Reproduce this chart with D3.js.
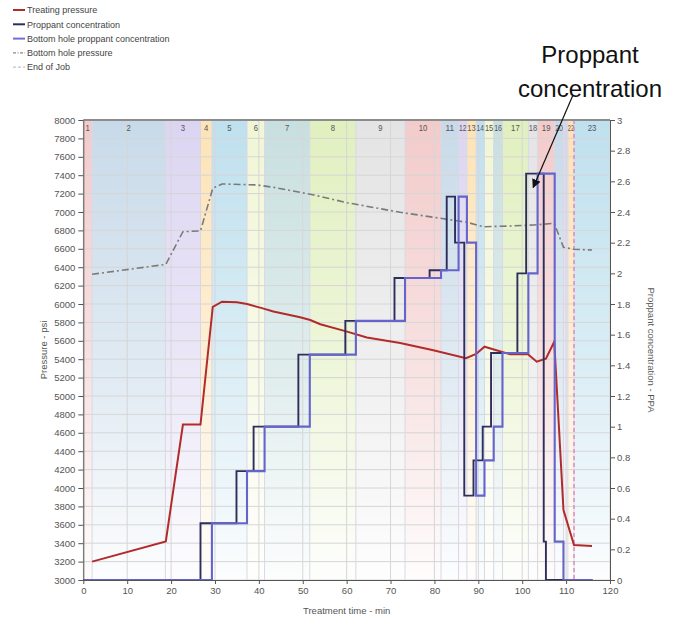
<!DOCTYPE html>
<html>
<head>
<meta charset="utf-8">
<script src="https://cdn.jsdelivr.net/npm/d3@7"></script>
<style>
  body { margin: 0; background: #fff; }
  svg text { font-family: "Liberation Sans", Arial, sans-serif; }
</style>
</head>
<body>
<svg id="chart" width="673" height="621"></svg>
<script>
// ---- Treatment data ----
// Treating pressure (psi) vs treatment time (min)
const tpTime  = [2, 18.8, 22.7, 26.7, 29.5, 31.6, 35, 37.3, 40.7, 43.3, 49.4, 51.7, 54, 60.1, 64.6, 72.2, 79.5, 87.2, 89.5, 91.4, 97.3, 101.3, 103.3, 105.4, 107.3, 109.4, 111.8, 115.9];
const tpValue = [3200, 3420, 4690, 4690, 5970, 6025, 6020, 6000, 5955, 5918, 5856, 5826, 5780, 5700, 5635, 5575, 5500, 5410, 5457, 5536, 5453, 5453, 5373, 5406, 5590, 3761, 3380, 3370];

// Bottom hole pressure (psi)
const bhpTime  = [2, 18.8, 22.7, 26.7, 29.5, 31.6, 39.6, 43.3, 52.5, 60.1, 72.2, 87.4, 91.2, 97.3, 102.6, 107.3, 109.4, 111.7, 115.9];
const bhpValue = [6323, 6431, 6786, 6794, 7258, 7305, 7294, 7269, 7185, 7101, 6997, 6888, 6840, 6848, 6859, 6877, 6617, 6595, 6587];

// Proppant concentration steps (PPA), value holds from each time to the next
const stepValues = [0, 0.37, 0.71, 1.0, 1.47, 1.69, 1.97, 2.02, 2.5, 2.2, 0.55, 0.78, 1.0, 1.48, 2.0, 2.65, 0.25, 0, 0];
const surfTime   = [0, 26.7, 34.9, 38.8, 49.0, 59.7, 70.9, 78.9, 82.8, 84.7, 86.8, 88.9, 91.0, 92.9, 98.9, 100.9, 104.9, 105.4, 116];
const bhTime     = [0, 29.3, 37.3, 41.3, 51.6, 62.1, 73.3, 81.5, 85.5, 87.4, 89.5, 91.4, 93.5, 95.5, 101.4, 103.5, 107.4, 109.4, 116];

// Stage boundaries (min) and labels
const stageBounds = [0, 2.0, 18.7, 26.7, 29.3, 37.3, 41.3, 51.6, 62.1, 73.3, 81.5, 85.5, 87.4, 89.5, 91.4, 93.5, 95.5, 101.4, 103.5, 107.4, 109.4, 110.4, 111.8, 120];
const stageLabels = d3.range(1, 24).map(String);
const stageColors = ["#f3cbcb", "#c8dae9", "#dcd5f2", "#fde3b6", "#bfe0ee", "#f1f6d6", "#c8dfdf", "#e1f0bf", "#e4e4e4"];

const endOfJob = 111.8;

// Axis ticks
const pressureTicks = d3.range(3000, 8001, 200);
const ppaTicks = d3.range(0, 3.001, 0.2).map(v => +v.toFixed(1));
const timeTicks = d3.range(0, 121, 10);

// Legend entries
const legendLabels = ["Treating pressure", "Proppant concentration", "Bottom hole proppant concentration", "Bottom hole pressure", "End of Job"];

// ---- Layout ----
const svg = d3.select("#chart");
const L = 83.3, R = 610, T = 120, B = 580;

const x = d3.scaleLinear().domain([0, 120]).range([L, R]);
const yP = d3.scaleLinear().domain([3000, 8000]).range([B, T]);
const yC = d3.scaleLinear().domain([0, 3]).range([B, T]);

const defs = svg.append("defs");
const fade = defs.append("linearGradient").attr("id", "fade")
  .attr("x1", 0).attr("y1", 0).attr("x2", 0).attr("y2", 1);
fade.append("stop").attr("offset", "0%").attr("stop-color", "#fff").attr("stop-opacity", 0);
fade.append("stop").attr("offset", "55%").attr("stop-color", "#fff").attr("stop-opacity", 0.45);
fade.append("stop").attr("offset", "100%").attr("stop-color", "#fff").attr("stop-opacity", 0.95);

// Stage bands
const stages = stageLabels.map((s, i) => ({ label: s, t0: stageBounds[i], t1: stageBounds[i + 1], color: stageColors[i % stageColors.length] }));
svg.append("g").selectAll("rect").data(stages).join("rect")
  .attr("x", d => x(d.t0)).attr("y", T)
  .attr("width", d => x(d.t1) - x(d.t0)).attr("height", B - T)
  .attr("fill", d => d.color);
svg.append("rect").attr("x", L).attr("y", T).attr("width", R - L).attr("height", B - T).attr("fill", "url(#fade)");

// Grid
const grid = svg.append("g");
grid.selectAll("line.h").data(pressureTicks).join("line")
  .attr("x1", L).attr("x2", R).attr("y1", d => yP(d)).attr("y2", d => yP(d))
  .attr("stroke", "#d6d6d6").attr("stroke-width", 1);
grid.selectAll("line.v").data(timeTicks).join("line")
  .attr("y1", T).attr("y2", B).attr("x1", d => x(d)).attr("x2", d => x(d))
  .attr("stroke", "#d6d6d6").attr("stroke-width", 1);
grid.selectAll("line.s").data(stageBounds.slice(1, -1)).join("line")
  .attr("y1", T).attr("y2", B).attr("x1", d => x(d)).attr("x2", d => x(d))
  .attr("stroke", "#d8d8e4").attr("stroke-width", 1);

// Stage labels: squeezed into narrow bands; a label that would still collide is left out
const digitW = 4.3;
let lastRight = -Infinity;
const labelG = svg.append("g");
stages.forEach(s => {
  const bandW = x(s.t1) - x(s.t0);
  const natural = s.label.length * digitW;
  const w = Math.max(Math.min(natural, bandW - 0.9), Math.min(natural, 6.2));
  const cx = Math.max((x(s.t0) + x(s.t1)) / 2, L + w / 2 + 1);
  if (cx - w / 2 < lastRight + 0.3) return;
  labelG.append("text").attr("x", cx).attr("y", T + 11)
    .attr("text-anchor", "middle").attr("font-size", w < natural ? 8.5 : 9.5).attr("fill", "#555")
    .attr("textLength", w).attr("lengthAdjust", "spacingAndGlyphs")
    .text(s.label);
  lastRight = cx + w / 2;
});

// End of job marker
svg.append("line").attr("x1", x(endOfJob)).attr("x2", x(endOfJob)).attr("y1", T).attr("y2", B)
  .attr("stroke", "#e07cc0").attr("stroke-width", 1.3).attr("stroke-dasharray", "4,3");

// Series
const pts = (ts, vs) => ts.map((t, i) => [t, vs[i]]);

svg.append("path").datum(pts(bhpTime, bhpValue))
  .attr("d", d3.line().x(d => x(d[0])).y(d => yP(d[1])))
  .attr("fill", "none").attr("stroke", "#7a7a7a").attr("stroke-width", 1.6)
  .attr("stroke-dasharray", "7,3,2,3");

svg.append("path").datum(pts(tpTime, tpValue))
  .attr("d", d3.line().x(d => x(d[0])).y(d => yP(d[1])))
  .attr("fill", "none").attr("stroke", "#b22b2b").attr("stroke-width", 2);

const stepLine = d3.line().curve(d3.curveStepAfter).x(d => x(d[0])).y(d => yC(d[1]));
svg.append("path").datum(pts(surfTime, stepValues))
  .attr("d", stepLine)
  .attr("fill", "none").attr("stroke", "#2e2e5c").attr("stroke-width", 1.9);
svg.append("path").datum(pts(bhTime, stepValues))
  .attr("d", stepLine)
  .attr("fill", "none").attr("stroke", "#6464cc").attr("stroke-width", 2.1);

// Frame
svg.append("line").attr("x1", L).attr("x2", R).attr("y1", T).attr("y2", T)
  .attr("stroke", "#8c8c8c").attr("stroke-width", 2);

// Axes
const styleAxis = g => {
  g.select(".domain").attr("stroke", "#555");
  g.selectAll(".tick line").attr("stroke", "#555");
  g.selectAll(".tick text").attr("fill", "#555").attr("font-size", 9.5)
    .attr("font-family", "'Liberation Sans', Arial, sans-serif");
};
svg.append("g").attr("transform", `translate(${L},0)`)
  .call(d3.axisLeft(yP).tickValues(pressureTicks).tickSize(5).tickSizeOuter(0).tickPadding(3).tickFormat(d3.format("d")))
  .call(styleAxis);
svg.append("g").attr("transform", `translate(${R},0)`)
  .call(d3.axisRight(yC).tickValues(ppaTicks).tickSize(5).tickSizeOuter(0).tickPadding(2).tickFormat(d3.format("~g")))
  .call(styleAxis);
svg.append("g").attr("transform", `translate(0,${B})`)
  .call(d3.axisBottom(x).tickValues(timeTicks).tickSize(4).tickSizeOuter(0).tickPadding(3))
  .call(styleAxis);

// Axis titles
svg.append("text").attr("transform", `translate(47,${(T + B) / 2}) rotate(-90)`)
  .attr("text-anchor", "middle").attr("font-size", 9.5).attr("fill", "#555").text("Pressure - psi");
svg.append("text").attr("transform", `translate(648,${(T + B) / 2}) rotate(90)`)
  .attr("text-anchor", "middle").attr("font-size", 9.5).attr("fill", "#555").text("Proppant concentration - PPA");
svg.append("text").attr("x", (L + R) / 2).attr("y", 614)
  .attr("text-anchor", "middle").attr("font-size", 9.5).attr("fill", "#555").text("Treatment time - min");

// Legend
const legendStyles = [
  { stroke: "#b22b2b", dash: null, w: 2 },
  { stroke: "#2e2e5c", dash: null, w: 2 },
  { stroke: "#7070d4", dash: null, w: 2 },
  { stroke: "#8a8a8a", dash: "3,1.5,1,1.5", w: 1.3 },
  { stroke: "#c4c4c4", dash: "3,2", w: 1.3 }
];
const lg = svg.append("g");
legendLabels.forEach((lab, i) => {
  const yy = 10 + i * 14.3;
  lg.append("line").attr("x1", 13).attr("x2", 25).attr("y1", yy).attr("y2", yy)
    .attr("stroke", legendStyles[i].stroke).attr("stroke-width", legendStyles[i].w)
    .attr("stroke-dasharray", legendStyles[i].dash);
  lg.append("text").attr("x", 27).attr("y", yy + 3.2).attr("font-size", 9)
    .attr("fill", "#444").text(lab);
});

// Annotation
const annot = svg.append("g");
annot.append("text").attr("x", 590).attr("y", 63).attr("text-anchor", "middle")
  .attr("font-family", "Lato, 'Open Sans', sans-serif").attr("font-size", 24).attr("fill", "#111")
  .text("Proppant");
annot.append("text").attr("x", 590).attr("y", 97).attr("text-anchor", "middle")
  .attr("font-family", "Lato, 'Open Sans', sans-serif").attr("font-size", 24).attr("fill", "#111")
  .text("concentration");
defs.append("marker").attr("id", "arrow").attr("viewBox", "0 0 10 10")
  .attr("refX", 9).attr("refY", 5).attr("markerWidth", 9).attr("markerHeight", 9)
  .attr("orient", "auto").attr("markerUnits", "userSpaceOnUse")
  .append("path").attr("d", "M0,0 L10,5 L0,10 Z").attr("fill", "#111");
annot.append("line").attr("x1", 573).attr("y1", 95)
  .attr("x2", x(102.5)).attr("y2", yC(2.56))
  .attr("stroke", "#111").attr("stroke-width", 1.2).attr("marker-end", "url(#arrow)");
</script>
</body>
</html>
